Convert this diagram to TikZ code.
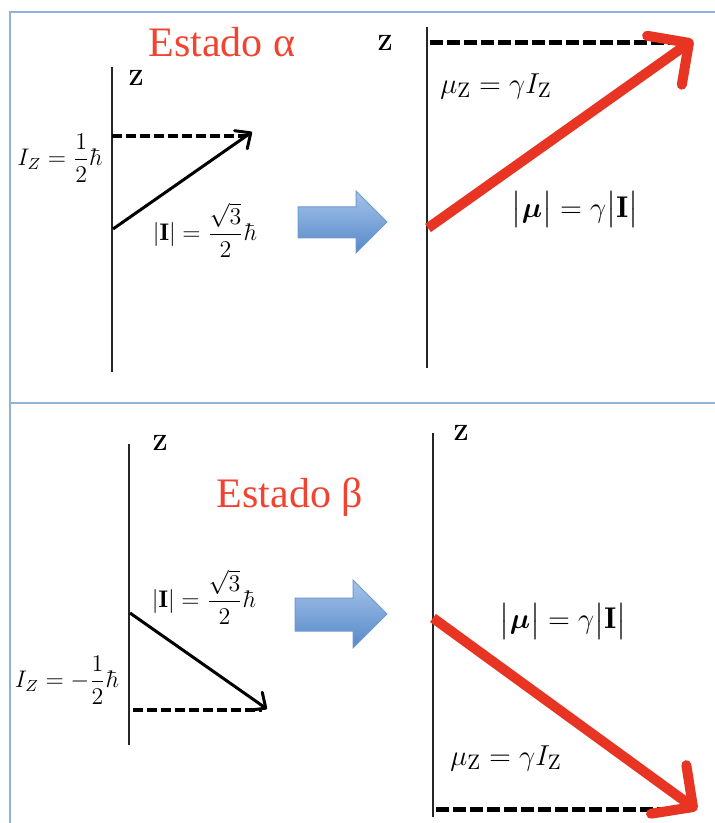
\documentclass[tikz,border=0pt]{standalone}
\usepackage{amsmath,amssymb}
\usepackage{fontspec}
\usepackage{tikz}
\usetikzlibrary{arrows.meta, calc}
\newfontfamily\fuentetitulo{Liberation Serif}
\definecolor{rojo}{RGB}{232,52,34}
\definecolor{titulorojo}{RGB}{240,68,48}
\definecolor{marco}{RGB}{145,178,212}
\definecolor{azulclaro}{RGB}{164,196,234}
\definecolor{azuloscuro}{RGB}{86,136,200}
\definecolor{azulborde}{RGB}{112,152,204}

\begin{document}
\begin{tikzpicture}[x=0.5pt, y=-0.5pt,
  eje/.style={line width=0.8pt, black!85},
  espin/.style={line width=1.5pt, -{Straight Barb[length=6pt, width=11pt, round]}},
  momento/.style={line width=5pt, rojo, -{Straight Barb[length=15pt, width=30pt, round]}},
  proy/.style={line width=2pt, dash pattern=on 5pt off 2pt},
  proyg/.style={line width=2.5pt, dash pattern=on 6.5pt off 2pt},
  etiq/.style={font=\fontsize{12}{14}\selectfont, inner sep=0pt},
  etiqg/.style={font=\fontsize{15}{18}\selectfont, inner sep=0pt},
  ejez/.style={font=\fontsize{11}{13}\selectfont\bfseries, inner sep=0pt},
  titulo/.style={font=\fontsize{21}{24}\selectfont\fuentetitulo, text=titulorojo, inner sep=0pt},
  flecha/.style={top color=azulclaro, bottom color=azuloscuro, draw=azulborde, line width=0.5pt}]

\useasboundingbox (0,0) rectangle (715,823);

% Marco
\draw[marco, line width=1pt] (715,12) -- (10,12) -- (10,823);
\draw[marco, line width=1pt] (10,403) -- (715,403);

% Estado alfa: espin
\node[titulo] (tituloA) at (222,42) {Estado α};
\draw[eje] (112,67) -- (112,372);
\node[ejez] (zA) at (136,78) {Z};
\coordinate (oA) at (113,229);
\coordinate (pA) at (252,132);
\coordinate (hA) at (112,136);
\coordinate (dA) at (246,136);
\draw[proy] (hA) -- (dA);
\draw[espin] (oA) -- (pA);
\node[etiq] (izA) at (60,158) {$\displaystyle I_Z=\frac{1}{2}\hbar$};
\node[etiq] (modA) at (205,230) {$\displaystyle |\mathbf{I}|=\frac{\sqrt{3}}{2}\hbar$};

% Flecha azul
\draw[flecha] (298,207) -- (356,207) -- (356,191) -- (387,222) -- (356,253)
  -- (356,238) -- (298,238) -- cycle;

% Estado alfa: momento magnetico
\draw[eje] (427,27) -- (427,368);
\node[ejez] (zB) at (385,43) {Z};
\coordinate (oB) at (428,228);
\coordinate (pB) at (693,40);
\coordinate (hB) at (430,43);
\coordinate (dB) at (686,43);
\draw[proyg] (hB) -- (dB);
\draw[momento] (oB) -- (pB);
\node[etiqg] (muB) at (496,86) {$\mu_{\mathrm{Z}}=\gamma I_{\mathrm{Z}}$};
\node[etiqg] (modB) at (575,210) {$\bigl|\boldsymbol{\mu}\bigr|=\gamma\bigl|\mathbf{I}\bigr|$};

% Estado beta: espin
\node[titulo] (tituloC) at (290,497) {Estado β};
\draw[eje] (129,444) -- (129,745);
\node[ejez] (zC) at (160,443) {Z};
\coordinate (oC) at (130,613);
\coordinate (pC) at (267,709);
\coordinate (hC) at (133,710);
\coordinate (dC) at (262,710);
\draw[proy] (hC) -- (dC);
\draw[espin] (oC) -- (pC);
\node[etiq] (modC) at (204,597) {$\displaystyle |\mathbf{I}|=\frac{\sqrt{3}}{2}\hbar$};
\node[etiq] (izC) at (67,680) {$\displaystyle I_Z=-\frac{1}{2}\hbar$};

% Flecha azul
\draw[flecha] (295,598) -- (353,598) -- (353,580) -- (387,614) -- (353,648)
  -- (353,631) -- (295,631) -- cycle;

% Estado beta: momento magnetico
\draw[eje] (433,433) -- (433,817);
\node[ejez] (zD) at (461,433) {Z};
\coordinate (oD) at (433,618);
\coordinate (pD) at (697,810);
\coordinate (hD) at (436,809);
\coordinate (dD) at (688,809);
\draw[proyg] (hD) -- (dD);
\draw[momento] (oD) -- (pD);
\node[etiqg] (modD) at (563,621) {$\bigl|\boldsymbol{\mu}\bigr|=\gamma\bigl|\mathbf{I}\bigr|$};
\node[etiqg] (muD) at (506,758) {$\mu_{\mathrm{Z}}=\gamma I_{\mathrm{Z}}$};

\end{tikzpicture}
\end{document}
